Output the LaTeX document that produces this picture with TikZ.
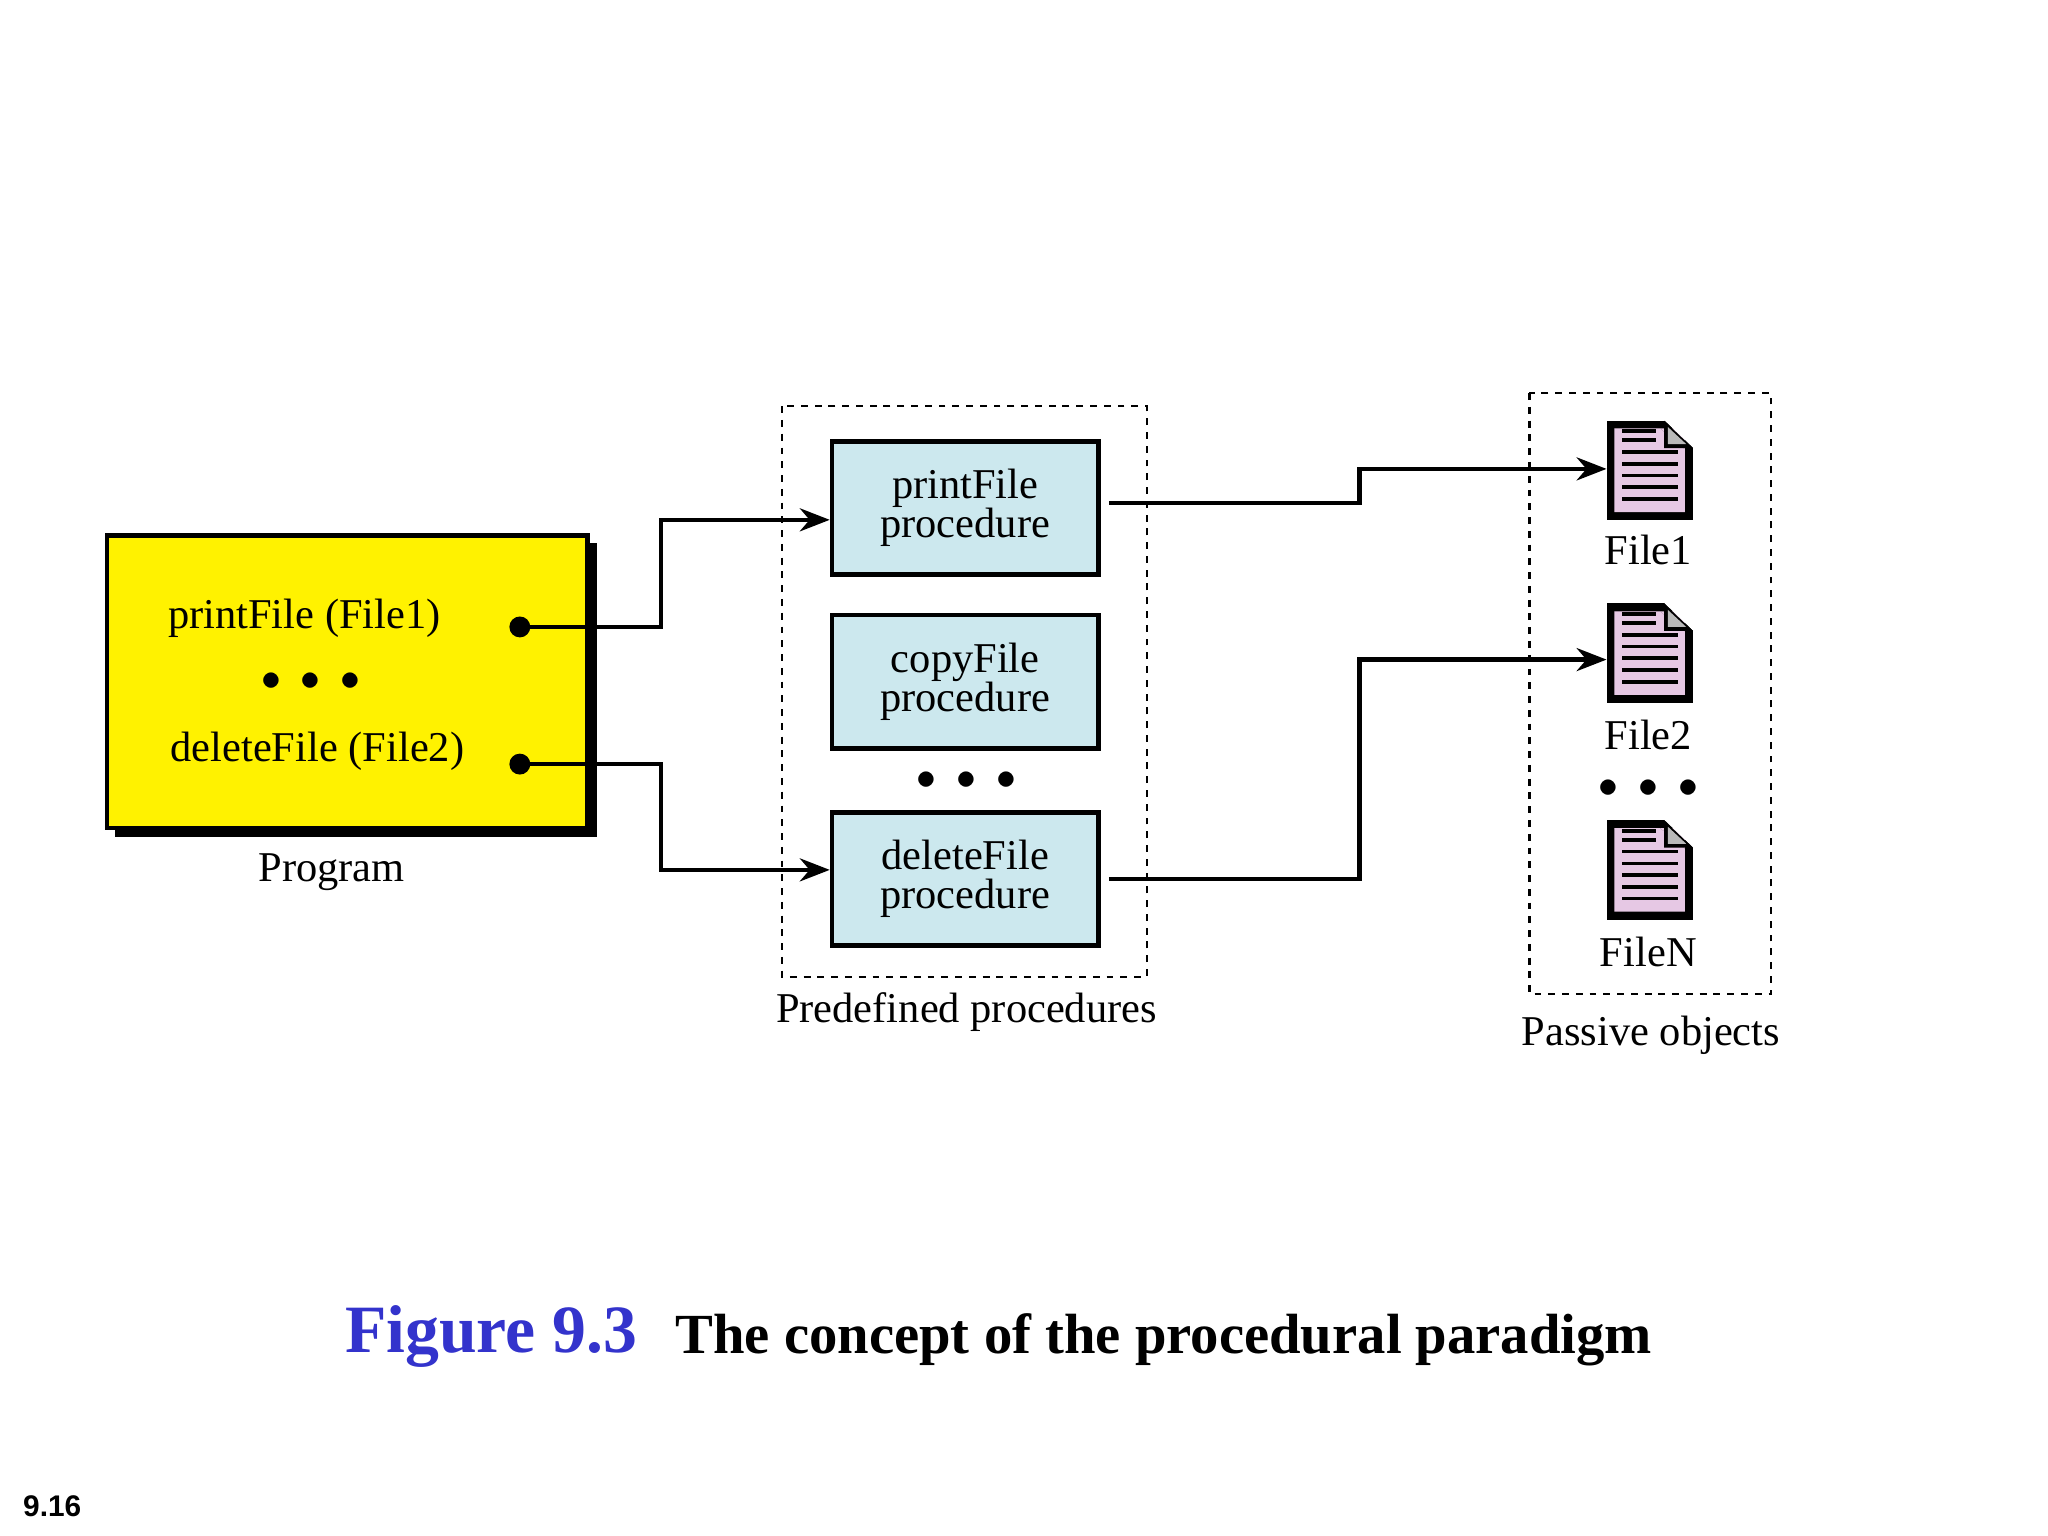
\documentclass[tikz,border=0pt]{standalone}
\usepackage{fontspec}
\setmainfont{Liberation Serif}
\newfontfamily\sansf{Liberation Sans}
\usetikzlibrary{arrows.meta}
\definecolor{procblue}{RGB}{204,232,238}
\definecolor{filepink}{RGB}{230,200,228}
\definecolor{capblue}{RGB}{51,51,204}
\tikzset{
  proc/.style={draw, line width=2pt, fill=procblue, minimum width=4.08cm, minimum height=2.04cm, align=center, inner sep=1pt, font=\fontsize{18.5}{17}\selectfont},
  grp/.style={draw, dashed, line width=0.9pt},
  lbl/.style={font=\fontsize{18.5}{20}\selectfont},
  conn/.style={line width=2pt, -{Stealth[length=13pt,width=10pt]}},
  dotsn/.style={font=\fontsize{17}{17}\selectfont},
  file/.pic={
    \fill[black] (-33,-38) rectangle (33,38);
    \fill[filepink] (-27,-32) -- (27,-32) -- (27,-16) -- (8,-32) -- (-27,-32) -- cycle;
    \fill[filepink] (-27,-32) -- (8,-32) -- (27,-16) -- (27,32) -- (-27,32) -- cycle;
    \fill[white] (11,-38.5) -- (33.5,-38.5) -- (33.5,-17) -- cycle;
    \fill[black] (11,-38) -- (33,-17) -- (11,-17) -- cycle;
    \fill[gray!55] (14,-33) -- (28,-20) -- (14,-20) -- cycle;
    \foreach \yy in {-14,-5,4,13,22}
      \draw[line width=1.6pt] (-21,\yy) -- (22,\yy);
    \draw[line width=1.6pt] (-21,-23) -- (5,-23);
    \draw[line width=1.6pt] (-21,-30) -- (5,-30);
  }
}
\begin{document}
\begin{tikzpicture}[x=0.02cm,y=-0.02cm]
\useasboundingbox (0,0) rectangle (1568,1176);
% program
\fill[black] (88,416) rectangle (457,641);
\node[draw, line width=2pt, fill=yellow, minimum width=7.36cm, minimum height=4.48cm] (prog) at (266,522) {};
\node[lbl] at (233,473) {printFile (File1)};
\node[dotsn] at (238,522) {$\bullet\;\bullet\;\bullet$};
\node[lbl] at (243,575) {deleteFile (File2)};
\fill (398,480) circle (8);
\fill (398,585) circle (8);
\coordinate (b1) at (398,480);
\coordinate (b2) at (398,585);
\node[lbl] at (254,668) {Program};
% procedures
\draw[grp] (599,311) rectangle (878,748);
\node[proc] (p1) at (739,389) {printFile\\procedure};
\node[proc] (p2) at (739,522) {copyFile\\procedure};
\node[proc] (p3) at (739,673) {deleteFile\\procedure};
\node[dotsn] at (740,598) {$\bullet\;\bullet\;\bullet$};
\node[lbl] at (740,775) {Predefined procedures};
% files
\draw[grp] (1171,301) rectangle (1356,761);
\pic at (1263,360) {file};
\pic at (1263,500) {file};
\pic at (1263,666) {file};
\coordinate (f1) at (1230,359);
\coordinate (f2) at (1230,505);
\node[lbl] at (1262,421) {File1};
\node[lbl] at (1262,563) {File2};
\node[dotsn] at (1262,604) {$\bullet\;\bullet\;\bullet$};
\node[lbl] at (1262,729) {FileN};
\node[lbl] at (1264,793) {Passive objects};
% connectors
\draw[conn] (b1) -- (506,480) |- (p1.west |- 0,398);
\draw[conn] (b2) -- (506,585) |- (p3.west |- 0,666);
\draw[conn] (849,385) -- (1041,385) |- (f1);
\draw[conn] (849,673) -- (1041,673) |- (f2);
% caption
\node[font=\fontsize{29.5}{32}\selectfont\bfseries, text=capblue] at (376,1023) {Figure 9.3};
\node[font=\fontsize{24.7}{28}\selectfont\bfseries] at (891,1026) {The concept of the procedural paradigm};
\node[font=\fontsize{13}{14}\selectfont\sansf\bfseries] at (40,1153) {9.16};
\end{tikzpicture}
\end{document}
